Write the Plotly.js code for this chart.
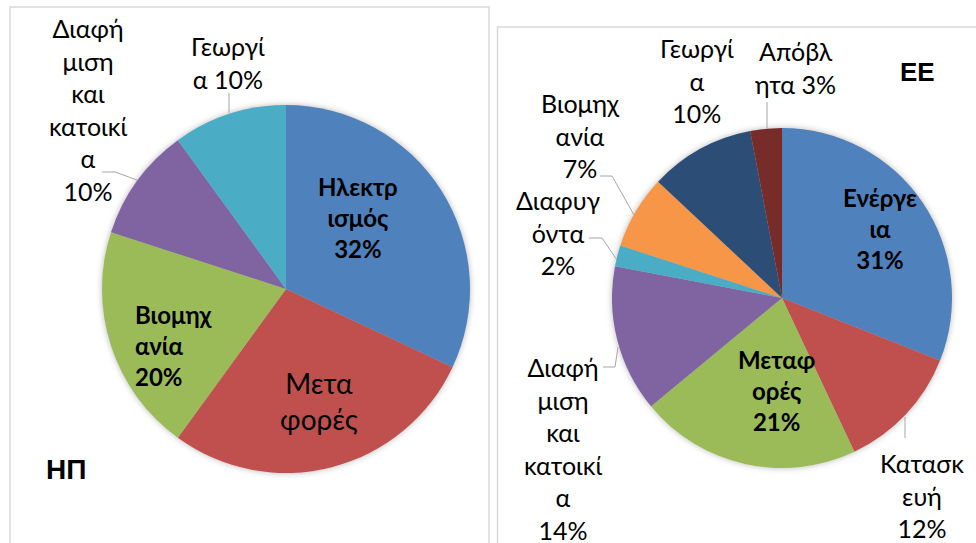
<!DOCTYPE html>
<html>
<head>
<meta charset="utf-8">
<script src="https://cdn.plot.ly/plotly-3.0.1.min.js"></script>
<style>
  html, body { margin: 0; padding: 0; background: #fff; }
  #chart { width: 976px; height: 543px; }
  #chart .pielayer .trace { filter: drop-shadow(0px 0px 3px rgba(0,0,0,0.28)); }
</style>
</head>
<body>
<div id="chart"></div>
<script>
// ---- Data ----
const usCategories = ['Ηλεκτρισμός', 'Μεταφορές', 'Βιομηχανία', 'Διαφήμιση και κατοικία', 'Γεωργία'];
const usValues = [32, 28, 20, 10, 10];
const usColors = ['#4F81BD', '#C0504D', '#9BBB59', '#8064A2', '#4BACC6'];
const usWrapped = ['Ηλεκτρ<br>ισμός', 'Μετα<br>φορές', 'Βιομηχ<br>ανία', 'Διαφή<br>μιση<br>και<br>κατοικί<br>α', 'Γεωργί<br>α'];
const usTitle = 'ΗΠ';

const euCategories = ['Ενέργεια', 'Κατασκευή', 'Μεταφορές', 'Διαφήμιση και κατοικία', 'Διαφυγόντα', 'Βιομηχανία', 'Γεωργία', 'Απόβλητα'];
const euValues = [31, 12, 21, 14, 2, 7, 10, 3];
const euColors = ['#4F81BD', '#C0504D', '#9BBB59', '#8064A2', '#4BACC6', '#F79646', '#2C4D75', '#772C2A'];
const euWrapped = ['Ενέργε<br>ια', 'Κατασκ<br>ευή', 'Μεταφ<br>ορές', 'Διαφή<br>μιση<br>και<br>κατοικί<br>α', 'Διαφυγ<br>όντα', 'Βιομηχ<br>ανία', 'Γεωργί<br>α', 'Απόβλ<br>ητα'];
const euTitle = 'ΕΕ';

// ---- Layout helpers (pixel -> paper) ----
const W = 976, H = 543;
const px = x => x / W;
const py = y => 1 - y / H;
const FONT = 'Lato, "Open Sans", Roboto, sans-serif';

function label(text, x, y, size, bold, align) {
  return {
    text: bold ? '<b>' + text + '</b>' : text,
    xref: 'paper', yref: 'paper', x: px(x), y: py(y),
    xanchor: align || 'center', yanchor: 'middle', align: align || 'center',
    showarrow: false,
    font: { family: FONT, size: size, color: '#000' }
  };
}
function leader(points) {
  let d = points.map((p, i) => (i ? 'L' : 'M') + px(p[0]) + ',' + py(p[1])).join(' ');
  return { type: 'path', xref: 'paper', yref: 'paper', path: d,
           line: { color: '#A6A6A6', width: 1 } };
}

const pct = v => v + '%';

const traces = [
  {
    type: 'pie', labels: usCategories, values: usValues, sort: false,
    direction: 'clockwise', rotation: 0,
    marker: { colors: usColors, line: { width: 0 } },
    textinfo: 'none', hoverinfo: 'label+percent', showlegend: false,
    domain: { x: [px(102), px(470)], y: [py(473), py(105)] }
  },
  {
    type: 'pie', labels: euCategories, values: euValues, sort: false,
    direction: 'clockwise', rotation: 0,
    marker: { colors: euColors, line: { width: 0 } },
    textinfo: 'none', hoverinfo: 'label+percent', showlegend: false,
    domain: { x: [px(612), px(952)], y: [py(468), py(128)] }
  }
];

const annotations = [
  // US chart
  label(usWrapped[0] + '<br>' + pct(usValues[0]), 358, 217, 24, true),
  label(usWrapped[1], 319, 401, 28, false),
  label(usWrapped[2] + '<br>' + pct(usValues[2]), 133, 345, 24, true, 'left'),
  label(usWrapped[3] + '<br>' + pct(usValues[3]), 88, 109, 25, false),
  label(usWrapped[4] + ' ' + pct(usValues[4]), 228, 62, 25, false),
  { text: '<b>' + usTitle + '</b>', xref: 'paper', yref: 'paper', x: px(44), y: py(469),
    xanchor: 'left', yanchor: 'middle', showarrow: false,
    font: { family: '"Liberation Sans", Arial, sans-serif', size: 28, color: '#000' } },
  // EU chart
  label(euWrapped[0] + '<br>' + pct(euValues[0]), 880, 229, 24, true),
  label(euWrapped[1] + '<br>' + pct(euValues[1]), 922, 495, 25, false),
  label(euWrapped[2] + '<br>' + pct(euValues[2]), 776, 390, 24, true),
  label(euWrapped[3] + '<br>' + pct(euValues[3]), 563, 448, 25, false),
  label(euWrapped[4] + '<br>' + pct(euValues[4]), 558, 232, 25, false),
  label(euWrapped[5] + '<br>' + pct(euValues[5]), 580, 135, 25, false),
  label(euWrapped[6] + '<br>' + pct(euValues[6]), 697, 80, 25, false),
  label(euWrapped[7] + ' ' + pct(euValues[7]), 795, 67, 25, false),
  { text: '<b>' + euTitle + '</b>', xref: 'paper', yref: 'paper', x: px(917), y: py(72),
    xanchor: 'center', yanchor: 'middle', showarrow: false,
    font: { family: '"Liberation Sans", Arial, sans-serif', size: 26, color: '#000' } }
];

const shapes = [
  // chart area borders
  { type: 'rect', xref: 'paper', yref: 'paper', x0: px(10), x1: px(489), y0: py(560), y1: py(7),
    line: { color: '#D9D9D9', width: 1.5 }, fillcolor: 'rgba(0,0,0,0)' },
  { type: 'rect', xref: 'paper', yref: 'paper', x0: px(497.5), x1: px(1000), y0: py(560), y1: py(27),
    line: { color: '#D9D9D9', width: 1.5 }, fillcolor: 'rgba(0,0,0,0)' },
  // leader lines
  leader([[102, 172], [115, 172], [137, 180]]),
  leader([[229, 93], [229, 113]]),
  leader([[767, 102], [767, 128]]),
  leader([[600, 176], [612, 176], [634, 215]]),
  leader([[589, 238], [602, 238], [617, 260]]),
  leader([[603, 367], [615, 367], [618, 347]]),
  leader([[905, 417], [905, 438]])
];

const layout = {
  width: W, height: H,
  margin: { l: 0, r: 0, t: 0, b: 0 },
  paper_bgcolor: '#fff', plot_bgcolor: '#fff',
  showlegend: false,
  annotations: annotations,
  shapes: shapes
};

Plotly.newPlot('chart', traces, layout, { displayModeBar: false, staticPlot: true });
</script>
</body>
</html>
